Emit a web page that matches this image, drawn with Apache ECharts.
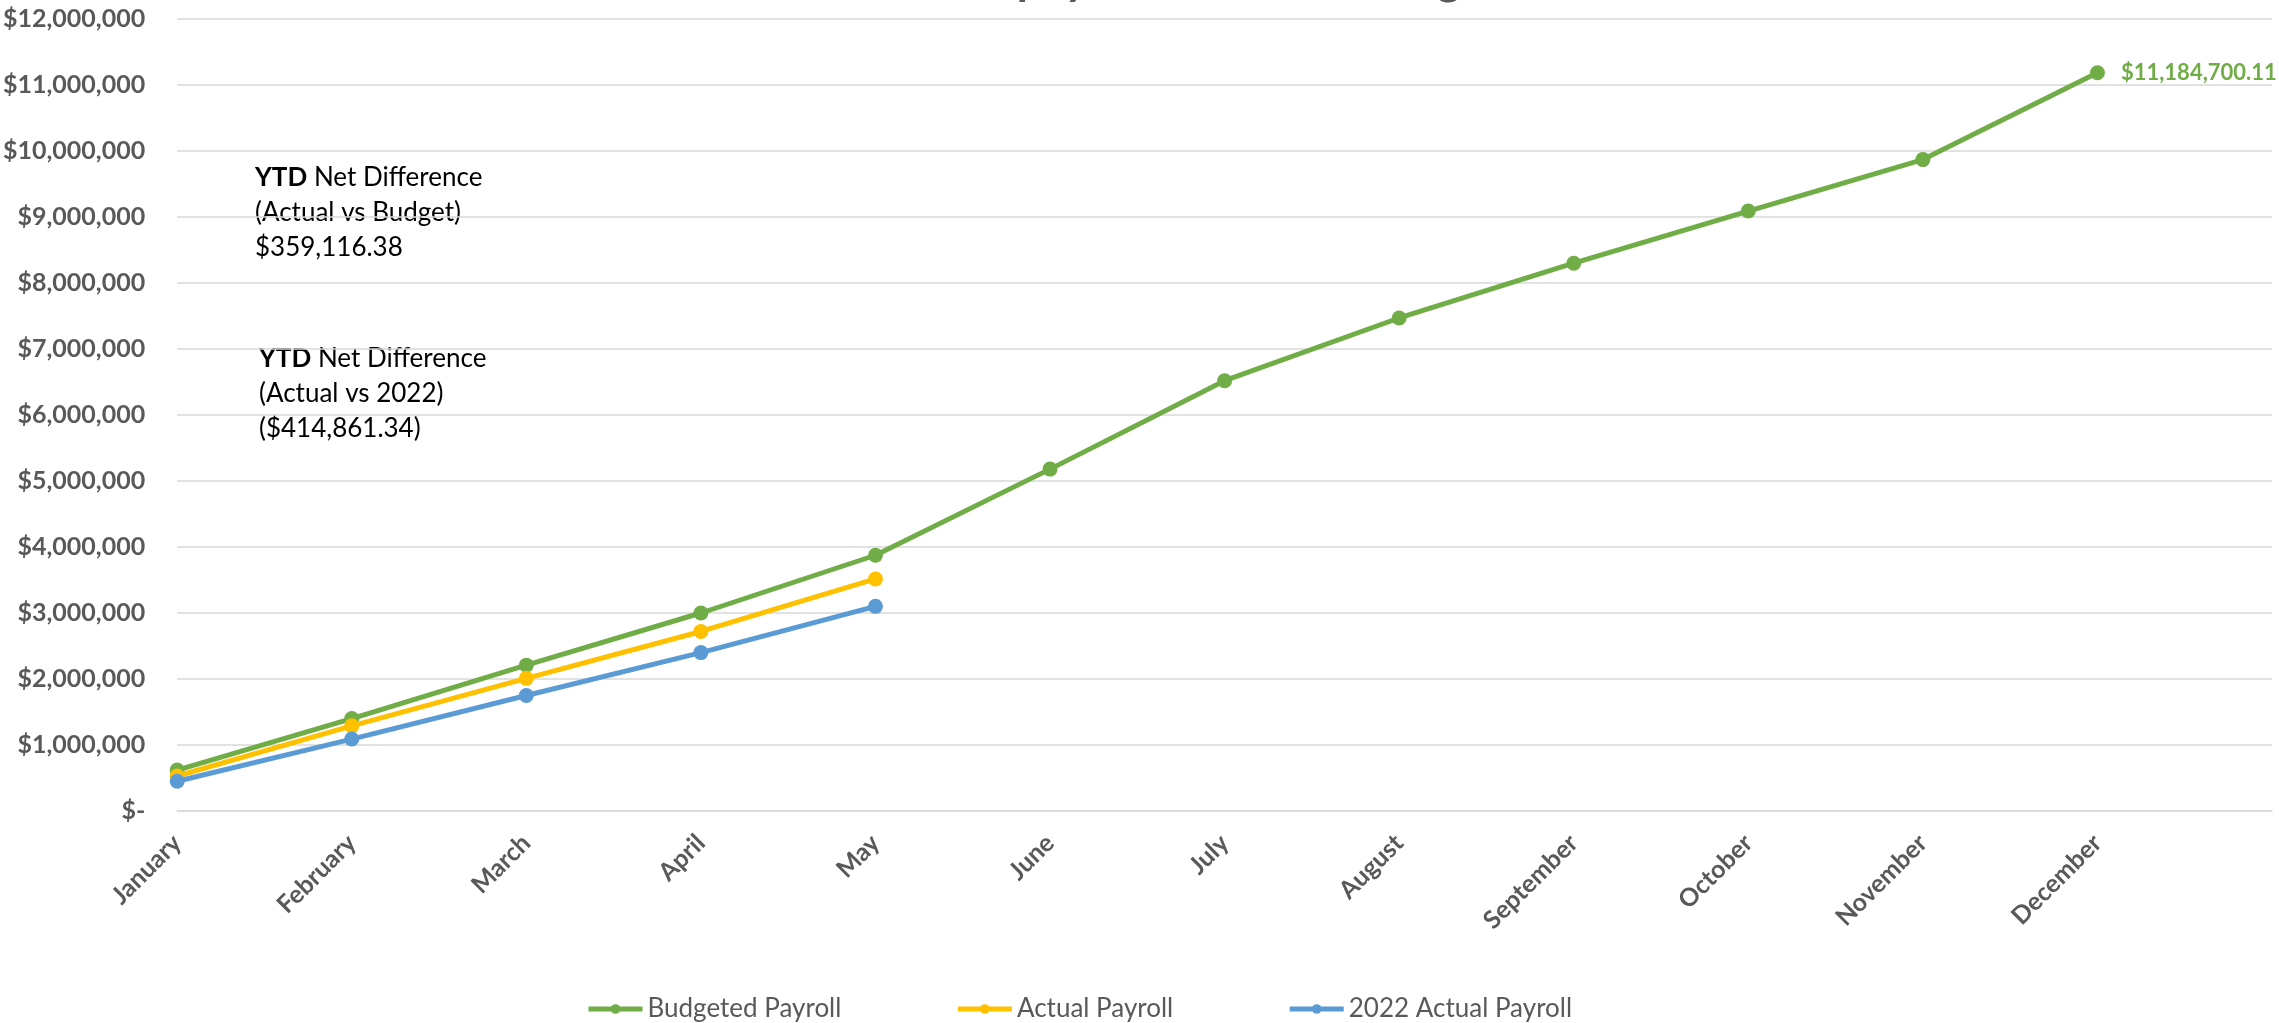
<!DOCTYPE html>
<html>
<head>
<meta charset="utf-8">
<style>
  html, body { margin: 0; padding: 0; background: #ffffff; }
  #chart { width: 2279px; height: 1023px; }
</style>
<script src="https://cdn.jsdelivr.net/npm/echarts@6/dist/echarts.min.js"></script>
</head>
<body>
<div id="chart"></div>
<script>
const titleText = 'Cumulative payroll Actual vs Budget';
const months = ['January', 'February', 'March', 'April', 'May', 'June', 'July', 'August', 'September', 'October', 'November', 'December'];
const budgetedPayroll = [620000, 1400000, 2210000, 3000000, 3875000, 5180000, 6520000, 7470000, 8300000, 9090000, 9870000, 11184700.11];
const actualPayroll = [530000, 1290000, 2010000, 2720000, 3516000];
const actual2022Payroll = [450000, 1090000, 1750000, 2400000, 3101000];
const yTicks = [0, 1000000, 2000000, 3000000, 4000000, 5000000, 6000000, 7000000, 8000000, 9000000, 10000000, 11000000, 12000000];
const noteBudget = ['YTD', 'Net Difference', '(Actual vs Budget)', '$359,116.38'];
const note2022 = ['YTD', 'Net Difference', '(Actual vs 2022)', '($414,861.34)'];

const FONT = 'Lato, "Open Sans", sans-serif';
const GRAY = '#595959';
const GREEN = '#70AD47', YELLOW = '#FFC000', BLUE = '#5B9BD5';

function money(v, dec) {
  return '$' + Number(v).toLocaleString('en-US', { minimumFractionDigits: dec, maximumFractionDigits: dec });
}

const chart = echarts.init(document.getElementById('chart'), null, { renderer: 'canvas' });

const budgetData = budgetedPayroll.map((v, i) => i === budgetedPayroll.length - 1
  ? { value: v, label: { show: true, position: 'right', distance: 16, formatter: p => money(p.value, 2), color: GREEN, fontWeight: 'bold', fontSize: 22, fontFamily: FONT } }
  : v);

function noteText(n) {
  return '{b|' + n[0] + '} ' + n[1] + '\n' + n[2] + '\n' + n[3];
}

const noteStyle = {
  fill: '#000000', font: '26px ' + FONT, lineHeight: 35,
  rich: { b: { fontWeight: 'bold', fontSize: 26, fontFamily: FONT, fill: '#000000', lineHeight: 35 } }
};

chart.setOption({
  animation: false,
  backgroundColor: '#ffffff',
  textStyle: { fontFamily: FONT },
  title: {
    text: titleText, left: 'center', top: -48,
    textStyle: { fontFamily: FONT, fontSize: 45, fontWeight: 'bold', color: GRAY }
  },
  grid: { left: 175, right: 7, top: 19, bottom: 212, containLabel: false },
  legend: {
    left: 581, top: 991, itemWidth: 54, itemHeight: 12, itemGap: 114,
    lineStyle: { width: 5 },
    textStyle: { fontFamily: FONT, fontSize: 26, color: GRAY, padding: [0, 0, 0, 0] },
    data: ['Budgeted Payroll', 'Actual Payroll', '2022 Actual Payroll']
  },
  xAxis: {
    type: 'category', boundaryGap: false,
    data: months.concat(['']),
    axisLine: { show: true, lineStyle: { color: '#D9D9D9', width: 1.5 } },
    axisTick: { show: false },
    axisLabel: { rotate: 45, margin: 28, interval: 0, color: GRAY, fontWeight: 'bold', fontSize: 25, fontFamily: FONT },
    splitLine: { show: false }
  },
  yAxis: {
    type: 'value', min: yTicks[0], max: yTicks[yTicks.length - 1], interval: yTicks[1] - yTicks[0],
    axisLine: { show: false }, axisTick: { show: false },
    axisLabel: { margin: 32, color: GRAY, fontWeight: 'bold', fontSize: 25, fontFamily: FONT,
      formatter: v => v === 0 ? '$-' : money(v, 0) },
    splitLine: { lineStyle: { color: '#D9D9D9', width: 1.5 } }
  },
  series: [
    { name: 'Budgeted Payroll', type: 'line', data: budgetData, symbol: 'circle', symbolSize: 15,
      itemStyle: { color: GREEN }, lineStyle: { color: GREEN, width: 5 }, z: 3 },
    { name: 'Actual Payroll', type: 'line', data: actualPayroll, symbol: 'circle', symbolSize: 15,
      itemStyle: { color: YELLOW }, lineStyle: { color: YELLOW, width: 5 }, z: 4 },
    { name: '2022 Actual Payroll', type: 'line', data: actual2022Payroll, symbol: 'circle', symbolSize: 15,
      itemStyle: { color: BLUE }, lineStyle: { color: BLUE, width: 5 }, z: 5 }
  ],
  graphic: [
    { type: 'text', left: 255, top: 160, style: Object.assign({ text: noteText(noteBudget) }, noteStyle) },
    { type: 'text', left: 259, top: 341, style: Object.assign({ text: noteText(note2022) }, noteStyle) }
  ]
});
</script>
</body>
</html>
